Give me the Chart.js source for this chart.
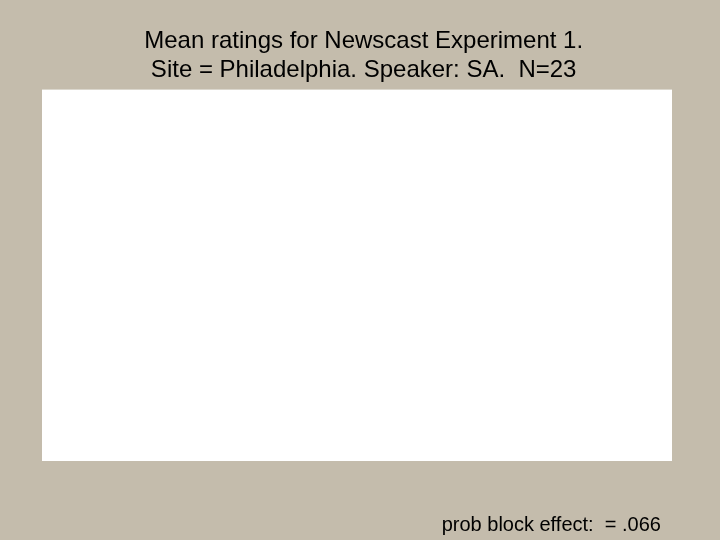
<!DOCTYPE html>
<html>
<head>
<meta charset="utf-8">
<title>Mean ratings for Newscast Experiment 1</title>
<script src="https://cdn.jsdelivr.net/npm/chart.js@4/dist/chart.umd.min.js"></script>
<style>
  html, body { margin: 0; padding: 0; background: #c4bcac; }
  #wrap { width: 720px; height: 540px; }
</style>
</head>
<body>
<div id="wrap"><canvas id="myChart"></canvas></div>
<script>
// the plot in the source slide is empty: no categories, no ratings
const categories = [];
const meanRatings = [];
const titleLines = ['\u00a0\u00a0Mean ratings for Newscast Experiment 1.', '\u00a0\u00a0Site = Philadelphia. Speaker: SA.  N=23'];
const footNote = 'prob block effect:  = .066\u00a0\u00a0';

// paint the tan slide and the white plot box
const panelBg = {
  id: 'panelBg',
  beforeDraw(chart) {
    const ctx = chart.ctx;
    const a = chart.chartArea;
    ctx.save();
    ctx.fillStyle = '#c4bcac';
    ctx.fillRect(0, 0, chart.width, chart.height);
    ctx.fillStyle = '#ffffff';
    ctx.fillRect(a.left, a.top, a.right - a.left, a.bottom - a.top);
    ctx.restore();
  }
};

document.addEventListener('DOMContentLoaded', () => {
  const ctx = document.getElementById('myChart').getContext('2d');
  new Chart(ctx, {
    type: 'bar',
    data: {
      labels: categories,
      datasets: [{
        label: 'Mean rating',
        data: meanRatings,
        backgroundColor: '#000080'
      }]
    },
    options: {
      responsive: true,
      maintainAspectRatio: false,
      animation: false,
      layout: { padding: { left: 42, right: 48, top: 0, bottom: 3 } },
      scales: {
        x: { display: false },
        y: { display: false }
      },
      plugins: {
        legend: { display: false },
        tooltip: { enabled: false },
        title: {
          display: true,
          text: titleLines,
          color: '#000000',
          font: { family: 'Liberation Sans, Arial, sans-serif', size: 24, weight: 'normal', lineHeight: 1.2 },
          padding: { top: 27, bottom: 5 }
        },
        subtitle: {
          display: true,
          position: 'bottom',
          align: 'end',
          text: footNote,
          color: '#000000',
          font: { family: 'Liberation Sans, Arial, sans-serif', size: 20, weight: 'normal', lineHeight: 1.2 },
          padding: { top: 52, bottom: 0 }
        }
      }
    },
    plugins: [panelBg]
  });
});
</script>
</body>
</html>
